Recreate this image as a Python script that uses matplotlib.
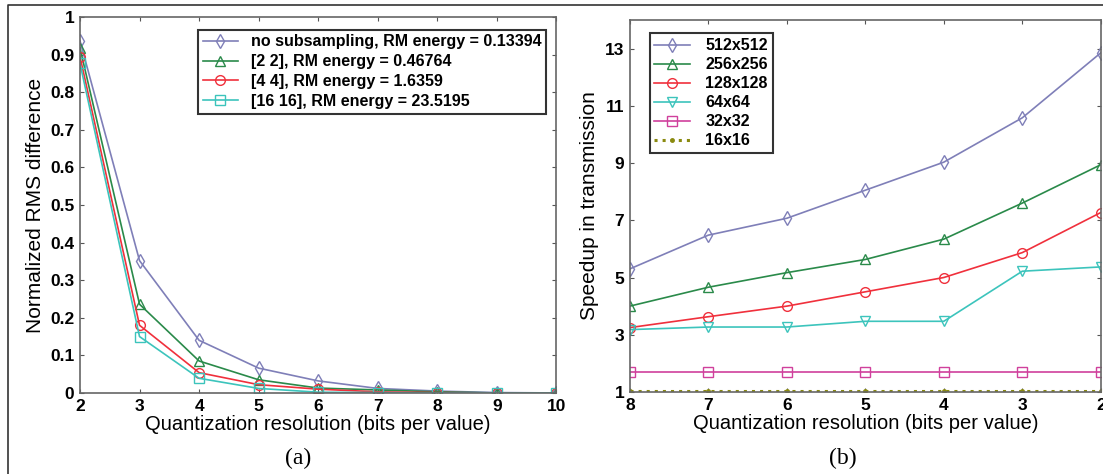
import numpy as np
import matplotlib.pyplot as plt

plt.rcParams['font.family'] = ['Liberation Sans', 'DejaVu Sans']

# (a) normalized RMS difference vs bits per value
bits_a = [2, 3, 4, 5, 6, 7, 8, 9, 10]
rms_none = [0.937, 0.352, 0.14, 0.066, 0.032, 0.012, 0.005, 0.001, 0.0]
rms_2 = [0.918, 0.236, 0.085, 0.035, 0.013, 0.008, 0.003, 0.0, 0.0]
rms_4 = [0.895, 0.18, 0.054, 0.022, 0.01, 0.003, 0.001, 0.0, 0.0]
rms_16 = [0.877, 0.15, 0.039, 0.012, 0.002, 0.001, 0.0, 0.0, 0.0]
labels_a = ['no subsampling, RM energy = 0.13394', '[2 2], RM energy = 0.46764',
            '[4 4], RM energy = 1.6359', '[16 16], RM energy = 23.5195']

# (b) speedup vs bits per value
bits_b = [8, 7, 6, 5, 4, 3, 2]
sp_512 = [5.3, 6.48, 7.07, 8.05, 9.03, 10.58, 12.85]
sp_256 = [4.0, 4.66, 5.17, 5.63, 6.34, 7.6, 8.94]
sp_128 = [3.25, 3.63, 4.0, 4.5, 5.0, 5.87, 7.27]
sp_64 = [3.18, 3.27, 3.27, 3.47, 3.47, 5.22, 5.37]
sp_32 = [1.7, 1.7, 1.7, 1.7, 1.7, 1.7, 1.7]
sp_16 = [1.02, 1.02, 1.02, 1.02, 1.02, 1.02, 1.02]
labels_b = ['512x512', '256x256', '128x128', '64x64', '32x32', '16x16']

c_purple = '#7f7fb8'
c_green = '#2a8a4a'
c_red = '#f0303c'
c_cyan = '#3cc4bc'
c_mag = '#d0409c'
c_olive = '#8a8a10'

fig = plt.figure(figsize=(11.03, 4.74), dpi=100)

# outer frame
fig.add_artist(plt.Line2D([0.007, 0.007, 1.0], [0.0, 0.989, 0.989], color='#333333', lw=1.2))

def style_axes(ax):
    ax.tick_params(direction='in', top=True, right=True, length=3, width=0.8,
                   pad=4, labelsize=12.5, colors='#555555', labelcolor='black')
    for lab in ax.get_xticklabels() + ax.get_yticklabels():
        lab.set_fontweight('bold')
    for sp in ax.spines.values():
        sp.set_color('#666666')
        sp.set_linewidth(1.2)

# ---- left panel ----
ax1 = fig.add_axes([0.0725, 0.171, 0.432, 0.793])
series_a = [rms_none, rms_2, rms_4, rms_16]
cols_a = [c_purple, c_green, c_red, c_cyan]
marks_a = ['d', '^', 'o', 's']
for ys, c, m, lab in zip(series_a, cols_a, marks_a, labels_a):
    ax1.plot(bits_a, ys, color=c, marker=m, mfc='none', mec=c, ms=7, lw=1.2, label=lab)
ax1.set_xlim(2, 10)
ax1.set_ylim(0, 1)
ax1.set_xticks(bits_a)
ax1.set_yticks(np.arange(0, 1.01, 0.1))
ax1.set_yticklabels(['0', '0.1', '0.2', '0.3', '0.4', '0.5', '0.6', '0.7', '0.8', '0.9', '1'])
style_axes(ax1)
ax1.set_xlabel('Quantization resolution (bits per value)', fontsize=14.5, labelpad=1)
ax1.set_ylabel('Normalized RMS difference', fontsize=15, labelpad=4)
leg1 = ax1.legend(loc='upper right', bbox_to_anchor=(0.995, 0.988), fancybox=False,
                  edgecolor='#333333', framealpha=1, fontsize=11.5, handlelength=2.2,
                  borderpad=0.3, labelspacing=0.3, handletextpad=0.8)
leg1.get_frame().set_linewidth(1.5)
for t in leg1.get_texts():
    t.set_fontweight('bold')
fig.text(0.27, 0.02, '(a)', fontsize=17, family='Liberation Serif', ha='center')

# ---- right panel ----
ax2 = fig.add_axes([0.571, 0.173, 0.427, 0.785])
series_b = [sp_512, sp_256, sp_128, sp_64, sp_32, sp_16]
cols_b = [c_purple, c_green, c_red, c_cyan, c_mag, c_olive]
marks_b = ['d', '^', 'o', 'v', 's', '.']
styles_b = ['-', '-', '-', '-', '-', ':']
for ys, c, m, ls, lab in zip(series_b, cols_b, marks_b, styles_b, labels_b):
    ms = 5 if m == '.' else 7
    ax2.plot(bits_b, ys, color=c, marker=m, mfc='none' if m != '.' else c, mec=c,
             ms=ms, lw=1.2 if ls == '-' else 2.2, ls=ls, label=lab)
ax2.set_xlim(8, 2)
ax2.set_ylim(1, 14)
ax2.set_xticks(bits_b)
ax2.set_yticks([1, 3, 5, 7, 9, 11, 13])
style_axes(ax2)
ax2.set_xlabel('Quantization resolution (bits per value)', fontsize=14.5, labelpad=1)
ax2.set_ylabel('Speedup in transmission', fontsize=15, labelpad=4)
leg2 = ax2.legend(loc='upper left', bbox_to_anchor=(0.025, 0.985), fancybox=False,
                  edgecolor='#333333', framealpha=1, fontsize=11.5, handlelength=2.2,
                  borderpad=0.3, labelspacing=0.25, handletextpad=1.0)
leg2.get_frame().set_linewidth(1.5)
for t in leg2.get_texts():
    t.set_fontweight('bold')
fig.text(0.764, 0.02, '(b)', fontsize=17, family='Liberation Serif', ha='center')

fig.savefig('out.png', dpi=100)
